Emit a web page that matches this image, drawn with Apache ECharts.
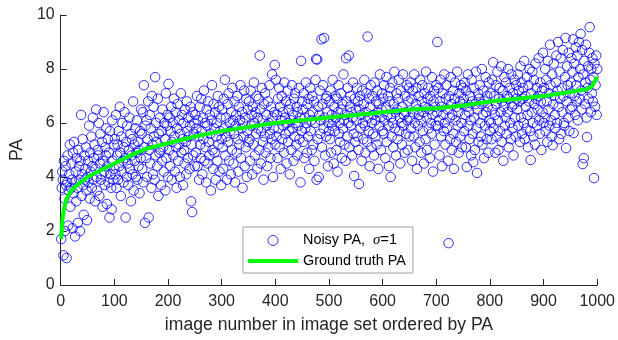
<!DOCTYPE html>
<html>
<head>
<meta charset="utf-8">
<script src="https://cdn.jsdelivr.net/npm/echarts@6/dist/echarts.min.js"></script>
<style>html,body{margin:0;padding:0;background:#fff}#c{width:618px;height:340px}</style>
</head>
<body>
<div id="c"></div>
<script>
// Ground truth PA curve (index, value)
var gtX = [1,3,6,10,15,20,30,40,50,60,80,100,130,160,200,250,300,350,400,450,500,550,600,650,700,750,800,850,900,950,980,990,1000];
var gtY = [1.7,2.4,2.8,3.15,3.35,3.5,3.7,3.85,4.0,4.1,4.3,4.5,4.8,5.05,5.25,5.5,5.7,5.85,6.0,6.1,6.2,6.3,6.4,6.5,6.55,6.65,6.8,6.9,7.0,7.15,7.25,7.35,7.7];

// Noisy PA, one value per image (image number = position + 1)
var noisyPA = [
1.7,3.6,4.2,3.9,1.1,4.6,3.2,2.0,4.4,3.7,1.0,3.8,4.8,2.2,3.5,4.1,5.2,2.9,3.6,4.5,3.9,2.1,4.9,3.4,5.3,3.8,1.8,4.2,3.1,4.7,3.6,2.3,5.0,4.4,3.9,2.0,4.6,6.3,3.3,4.1,5.4,3.7,2.6,4.8,3.9,4.3,5.1,3.5,2.4,4.0,
4.6,3.8,5.9,3.2,4.9,4.2,5.5,3.6,4.4,6.2,3.9,4.7,5.2,3.1,4.3,6.5,4.0,3.5,5.0,4.8,6.0,3.3,4.5,5.6,3.9,4.1,5.3,2.9,4.6,6.4,4.2,3.7,5.1,4.8,5.8,3.0,4.4,5.4,3.8,4.9,2.5,5.7,4.1,3.6,2.8,6.1,4.6,3.9,5.2,4.3,
5.4,4.1,6.3,3.6,4.8,5.2,3.9,5.7,4.4,6.6,4.9,3.3,5.5,4.2,6.0,4.6,3.8,5.1,6.4,4.7,2.5,5.3,4.0,5.9,4.5,3.7,5.0,6.2,4.3,5.6,3.1,4.8,5.4,4.1,6.8,3.5,5.2,4.6,5.8,4.0,4.9,6.1,3.9,5.3,4.4,5.0,3.4,5.7,4.7,6.5,
5.6,4.3,6.4,3.8,7.4,5.1,2.3,5.9,4.7,6.1,4.0,5.4,6.8,2.5,5.0,6.3,4.5,5.8,3.6,7.0,5.2,4.1,6.6,5.5,3.9,7.7,4.8,6.0,5.3,4.4,6.9,3.3,5.6,4.9,6.2,5.0,3.7,5.7,4.6,6.5,5.1,4.2,6.0,5.4,3.5,7.1,4.7,5.9,6.3,4.0,
7.45,5.0,6.2,4.4,5.7,6.6,3.9,5.3,6.0,4.8,6.9,5.5,4.2,6.4,5.1,3.6,5.8,6.7,4.6,5.2,6.1,4.0,5.6,7.1,4.9,6.3,5.4,3.7,6.0,5.0,4.5,6.5,5.3,4.1,6.8,5.7,4.7,6.2,5.5,4.3,5.9,6.6,3.1,5.2,2.7,6.4,4.8,5.6,6.0,4.4,
6.3,4.9,5.8,7.0,4.4,6.1,5.5,3.9,6.6,5.2,4.7,6.9,5.7,4.1,6.2,5.4,7.2,4.6,6.0,5.1,3.8,6.5,5.9,4.5,6.8,5.3,4.8,6.3,5.6,3.5,6.1,7.4,5.0,4.3,6.7,5.8,4.9,6.4,3.9,5.5,6.0,4.6,7.0,5.2,6.6,4.2,5.7,6.2,3.7,5.4,
6.5,5.1,4.3,6.9,5.8,7.6,4.8,6.2,5.5,3.9,6.7,5.3,7.1,4.6,6.0,5.7,4.1,6.4,5.0,7.3,6.1,4.5,5.6,6.8,3.8,5.9,6.3,4.9,7.0,5.4,4.2,6.6,5.2,6.1,7.4,4.7,5.8,6.4,3.6,6.0,5.5,7.2,4.4,6.2,5.1,6.9,4.0,5.7,6.5,5.3,
6.8,5.4,4.6,7.2,5.9,6.3,4.1,6.6,5.2,7.5,6.0,4.8,6.4,5.6,7.0,4.3,6.2,5.8,6.9,5.0,8.5,6.5,4.5,5.7,7.3,6.1,5.3,3.9,6.7,5.5,7.1,4.9,6.3,5.9,4.4,6.8,5.1,6.0,7.4,5.6,4.7,6.6,5.4,7.8,6.2,4.0,5.8,6.4,8.15,5.2,
7.6,5.5,6.3,4.7,6.9,5.8,7.3,5.1,6.6,4.3,6.1,7.0,5.4,6.4,5.9,4.9,7.5,6.2,5.6,6.8,4.5,6.0,7.2,5.3,6.5,5.7,4.1,6.7,6.1,5.0,7.4,5.8,6.3,4.6,6.9,5.5,7.1,6.0,5.2,6.6,4.8,6.4,5.9,7.3,5.4,6.2,3.8,8.3,5.7,6.8,
6.5,5.3,7.1,4.7,6.2,5.8,7.5,6.0,4.9,6.7,5.5,6.9,4.3,6.3,7.3,5.7,6.1,5.0,7.0,6.4,5.2,6.8,4.6,6.0,7.6,8.37,3.9,8.35,5.4,6.6,4.0,6.3,7.2,5.6,6.1,9.1,5.1,6.7,7.4,5.8,9.15,6.2,4.8,6.9,5.5,7.0,6.4,4.4,6.0,5.7,
6.8,5.4,7.2,4.9,6.3,5.9,7.6,6.1,4.5,6.6,5.7,7.0,6.2,5.0,6.9,4.2,6.4,7.4,5.6,6.0,5.3,7.1,6.5,4.7,6.7,5.8,7.8,6.1,5.2,6.3,4.6,8.4,6.8,5.5,7.3,6.0,8.5,5.1,6.6,7.0,5.9,6.4,4.8,6.2,7.5,5.6,4.04,6.9,5.3,6.5,
6.1,7.3,5.5,6.8,5.0,3.74,6.5,7.0,5.8,6.3,4.6,7.2,6.0,5.4,6.7,7.6,5.9,4.9,6.4,7.1,5.3,9.2,6.2,5.7,6.9,4.4,6.6,7.4,5.1,6.0,7.0,5.6,6.3,4.8,7.5,6.1,5.5,6.8,5.2,7.2,6.4,4.3,6.7,5.9,7.8,6.2,5.0,6.5,7.1,5.7,
6.9,5.6,7.4,6.1,4.7,6.6,7.7,5.3,6.3,7.0,5.9,4.4,6.8,7.3,4.0,6.2,5.5,7.5,6.0,5.1,6.7,7.9,5.8,6.4,4.8,7.1,6.5,5.4,6.9,7.6,5.7,6.2,4.5,7.2,6.0,5.2,6.6,7.8,5.9,6.3,4.9,7.0,6.4,5.6,7.4,6.1,5.0,6.8,7.3,5.5,
6.2,7.5,5.8,6.9,4.6,7.2,6.4,5.5,7.8,6.0,5.1,6.7,7.3,4.3,6.5,5.9,7.0,6.3,5.3,7.6,6.1,4.9,6.8,7.4,5.7,6.4,4.5,7.1,6.6,5.4,7.9,6.2,5.0,6.9,7.3,5.8,6.5,4.7,7.0,6.0,5.6,7.7,6.3,4.2,6.8,7.2,5.2,6.6,5.9,7.4,
6.4,9.0,5.9,7.3,6.1,4.8,6.8,7.6,5.5,6.6,4.4,7.1,6.3,5.7,7.8,6.0,5.2,6.9,7.4,5.8,6.5,4.6,1.55,7.0,6.2,5.4,7.7,6.7,5.0,6.3,7.2,5.6,4.3,6.9,7.5,6.1,5.3,6.6,7.9,5.9,6.4,4.9,7.1,6.8,5.5,7.4,6.0,5.1,6.7,7.3,
6.9,5.7,7.5,6.3,5.1,7.2,4.37,6.6,7.8,5.9,6.4,5.4,7.0,6.1,4.8,7.6,6.8,5.6,4.55,7.3,6.2,5.0,6.7,7.9,5.8,4.15,6.5,7.1,5.3,6.9,7.4,6.0,5.5,6.7,8.0,5.2,6.3,7.2,4.7,6.8,5.9,7.7,6.4,5.4,7.0,6.6,4.9,7.5,6.1,5.7,
7.1,6.0,5.4,7.6,6.5,8.25,5.8,7.0,6.3,4.9,7.4,6.7,5.5,7.9,6.1,5.0,6.9,7.3,5.7,6.4,8.1,5.3,6.8,7.2,4.6,6.6,7.7,5.9,6.2,7.5,5.6,7.0,6.4,8.0,5.1,6.9,7.3,6.0,5.4,7.8,6.6,5.8,7.1,4.8,6.7,7.6,6.2,5.5,7.4,6.9,
6.5,7.8,5.9,7.2,6.8,5.3,8.1,6.2,7.5,5.6,6.9,7.3,6.0,8.3,5.4,7.0,6.6,5.8,7.7,6.3,5.1,7.4,6.8,8.0,5.7,4.63,7.1,6.4,7.9,6.0,5.5,7.6,6.7,5.2,8.2,6.9,7.3,5.9,6.5,7.0,8.4,6.1,5.6,7.5,6.8,5.0,7.2,6.4,8.6,6.0,
7.3,6.2,8.0,5.7,7.6,6.8,5.3,8.3,6.5,7.1,5.9,8.9,7.4,6.1,5.5,7.8,5.18,6.7,8.2,7.0,6.3,5.8,7.5,8.5,6.0,7.2,9.0,6.6,5.4,7.9,6.9,8.4,5.6,7.3,6.4,8.7,7.0,6.0,5.9,7.7,9.15,5.07,6.8,8.1,7.4,6.2,8.6,5.7,7.1,6.5,
7.5,8.4,6.6,7.9,9.1,5.63,8.2,7.0,6.3,8.8,7.4,6.8,8.5,6.1,7.7,9.0,6.9,8.0,9.3,7.2,6.5,8.7,4.48,7.8,4.7,8.3,6.7,7.5,8.9,6.2,5.48,7.3,8.1,6.9,8.6,9.55,7.6,6.4,8.0,7.1,8.4,6.8,7.7,3.96,8.2,6.6,7.4,8.5,6.3,8.0
];

var xTicks = [0,100,200,300,400,500,600,700,800,900,1000];
var yTicks = [0,2,4,6,8,10];

var FONT = '"Liberation Sans", Arial, sans-serif';
var AX = '#262626';

var chart = echarts.init(document.getElementById('c'), null, {renderer: 'canvas'});
var scatterData = noisyPA.map(function (v, i) { return [i + 1, v]; });
var lineData = gtX.map(function (x, i) { return [x, gtY[i]]; });

chart.setOption({
  animation: false,
  backgroundColor: '#fff',
  grid: {left: 59, right: 20, top: 15, bottom: 55, containLabel: false},
  xAxis: {
    type: 'value', min: xTicks[0], max: xTicks[xTicks.length - 1], interval: 100,
    name: 'image number in image set ordered by PA', nameLocation: 'middle', nameGap: 31,
    nameTextStyle: {fontFamily: FONT, fontSize: 17.6, color: AX},
    axisLine: {lineStyle: {color: AX, width: 1}},
    axisTick: {inside: true, length: 6, lineStyle: {color: AX}},
    axisLabel: {fontFamily: FONT, fontSize: 16, color: AX, margin: 9, formatter: function (v) { return String(v); }},
    splitLine: {show: false}
  },
  yAxis: {
    type: 'value', min: yTicks[0], max: yTicks[yTicks.length - 1], interval: 2,
    name: 'PA', nameLocation: 'middle', nameGap: 31, nameRotate: 90,
    nameTextStyle: {fontFamily: FONT, fontSize: 17.6, color: AX},
    axisLine: {show: true, lineStyle: {color: AX, width: 1}},
    axisTick: {show: true, inside: true, length: 6, lineStyle: {color: AX}},
    axisLabel: {fontFamily: FONT, fontSize: 16, color: AX, margin: 6, formatter: function (v) { return String(v); }},
    splitLine: {show: false}
  },
  legend: {
    orient: 'vertical', left: 243, top: 227,
    padding: [6, 7, 5, 5], itemGap: 6, itemWidth: 50, itemHeight: 10,
    backgroundColor: '#fff', borderColor: '#a0a0a0', borderWidth: 1, borderRadius: 0,
    selectedMode: false,
    textStyle: {fontFamily: FONT, fontSize: 14.4, color: '#000',
      rich: {s: {fontFamily: '"Liberation Serif", serif', fontStyle: 'italic', fontSize: 15, color: '#000'}}},
    formatter: function (name) { return name.replace('σ', '{s|σ}'); },
    data: [
      {name: 'Noisy PA,  σ=1', icon: 'circle', itemStyle: {color: 'rgba(0,0,0,0)', borderColor: '#0000ff', borderWidth: 1}},
      {name: 'Ground truth PA', icon: 'path://M0,0 L50,0 L50,4 L0,4 Z', symbolKeepAspect: true,
        itemStyle: {color: '#00ff00', borderWidth: 0}}
    ]
  },
  series: [
    {
      name: 'Noisy PA,  σ=1', type: 'scatter', data: scatterData,
      symbol: 'circle', symbolSize: 9.5,
      itemStyle: {color: 'rgba(0,0,0,0)', borderColor: '#0000ff', borderWidth: 1},
      emphasis: {disabled: true}, silent: true, large: false
    },
    {
      name: 'Ground truth PA', type: 'line', data: lineData,
      showSymbol: false, symbol: 'none', smooth: false,
      lineStyle: {color: '#00ff00', width: 4},
      itemStyle: {color: '#00ff00'},
      emphasis: {disabled: true}, silent: true, z: 3
    }
  ]
});
</script>
</body>
</html>
